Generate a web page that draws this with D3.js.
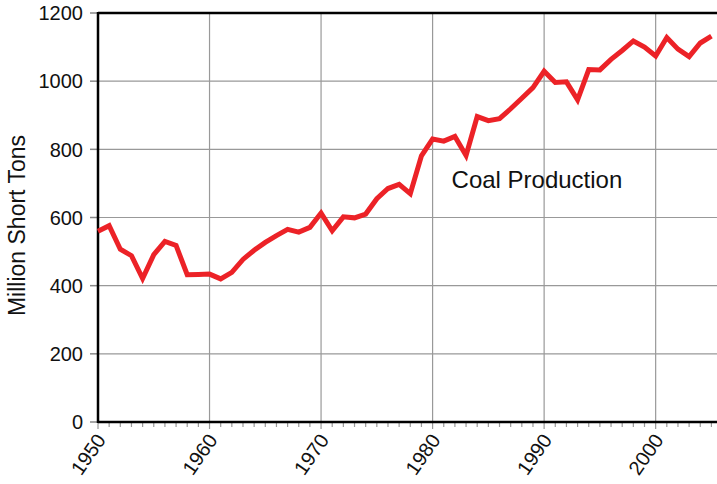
<!DOCTYPE html>
<html>
<head>
<meta charset="utf-8">
<script src="https://cdn.jsdelivr.net/npm/d3@7"></script>
<style>
  body { margin: 0; background: #fff; }
  text { font-family: "Liberation Sans", Arial, sans-serif; fill: #111; }
</style>
</head>
<body>
<svg id="chart" width="717" height="484"></svg>
<script>
// US coal production, million short tons
const years = d3.range(1950, 2006);
const production = [
  560, 576, 507, 488, 421, 491, 530, 518, 432, 433,
  434, 420, 439, 477, 504, 527, 547, 565, 557, 571,
  613, 561, 602, 599, 610, 655, 685, 697, 670, 781,
  830, 824, 838, 782, 896, 884, 890, 919, 950, 981,
  1029, 996, 998, 945, 1034, 1033, 1064, 1090, 1118, 1100,
  1074, 1128, 1094, 1072, 1112, 1132
];
const yTicks = [0, 200, 400, 600, 800, 1000, 1200];
const xTicks = [1950, 1960, 1970, 1980, 1990, 2000];
const seriesLabel = "Coal Production";

const svg = d3.select("#chart");
const plotL = 98, plotR = 717, plotT = 13, plotB = 422;

const x = d3.scaleLinear().domain([1950, 2005.5]).range([plotL, plotR]);
const y = d3.scaleLinear().domain([0, 1200]).range([plotB, plotT]);

// grid
svg.append("g").selectAll("line").data(xTicks.slice(1))
  .join("line")
  .attr("x1", d => x(d)).attr("x2", d => x(d))
  .attr("y1", plotT).attr("y2", plotB)
  .attr("stroke", "#999").attr("stroke-width", 1.2);
svg.append("g").selectAll("line").data(yTicks.slice(1, -1))
  .join("line")
  .attr("x1", plotL).attr("x2", plotR)
  .attr("y1", d => y(d)).attr("y2", d => y(d))
  .attr("stroke", "#999").attr("stroke-width", 1.2);

// y axis ticks + labels
svg.append("g").selectAll("line").data(yTicks)
  .join("line")
  .attr("x1", plotL - 8).attr("x2", plotL)
  .attr("y1", d => y(d)).attr("y2", d => y(d))
  .attr("stroke", "#888").attr("stroke-width", 1.5);
svg.append("g").selectAll("text").data(yTicks)
  .join("text")
  .attr("x", plotL - 15).attr("y", d => y(d))
  .attr("dy", "0.36em")
  .attr("text-anchor", "end")
  .attr("font-size", 20)
  .text(d => d);

// x minor ticks (every year)
svg.append("g").selectAll("line").data(d3.range(1950, 2006))
  .join("line")
  .attr("x1", d => x(d)).attr("x2", d => x(d))
  .attr("y1", plotB).attr("y2", d => plotB + (d % 10 === 0 ? 7 : 5))
  .attr("stroke", "#999").attr("stroke-width", 1.2);

// x labels rotated
svg.append("g").selectAll("text").data(xTicks)
  .join("text")
  .attr("transform", d => `translate(${x(d) + 3},${plotB + 14}) rotate(-55)`)
  .attr("text-anchor", "end")
  .attr("dy", "0.35em")
  .attr("font-size", 20)
  .text(d => d);

// frame
svg.append("line").attr("x1", plotL).attr("x2", plotR).attr("y1", plotT).attr("y2", plotT)
  .attr("stroke", "#000").attr("stroke-width", 2.5);
svg.append("line").attr("x1", plotL).attr("x2", plotR).attr("y1", plotB).attr("y2", plotB)
  .attr("stroke", "#000").attr("stroke-width", 2.5);
svg.append("line").attr("x1", plotL).attr("x2", plotL).attr("y1", plotT - 1).attr("y2", plotB + 1)
  .attr("stroke", "#000").attr("stroke-width", 2.5);

// series line
const line = d3.line().x((d, i) => x(years[i])).y(d => y(d));
svg.append("path")
  .datum(production)
  .attr("d", line)
  .attr("fill", "none")
  .attr("stroke", "#ec2227")
  .attr("stroke-width", 5)
  .attr("stroke-linejoin", "miter");

svg.append("text")
  .attr("x", x(1981.7)).attr("y", y(700) + 5)
  .attr("font-size", 24)
  .text(seriesLabel);

// y axis title
svg.append("text")
  .attr("transform", `translate(25,${(plotT + plotB) / 2 + 8}) rotate(-90)`)
  .attr("text-anchor", "middle")
  .attr("font-size", 23)
  .text("Million Short Tons");
</script>
</body>
</html>
